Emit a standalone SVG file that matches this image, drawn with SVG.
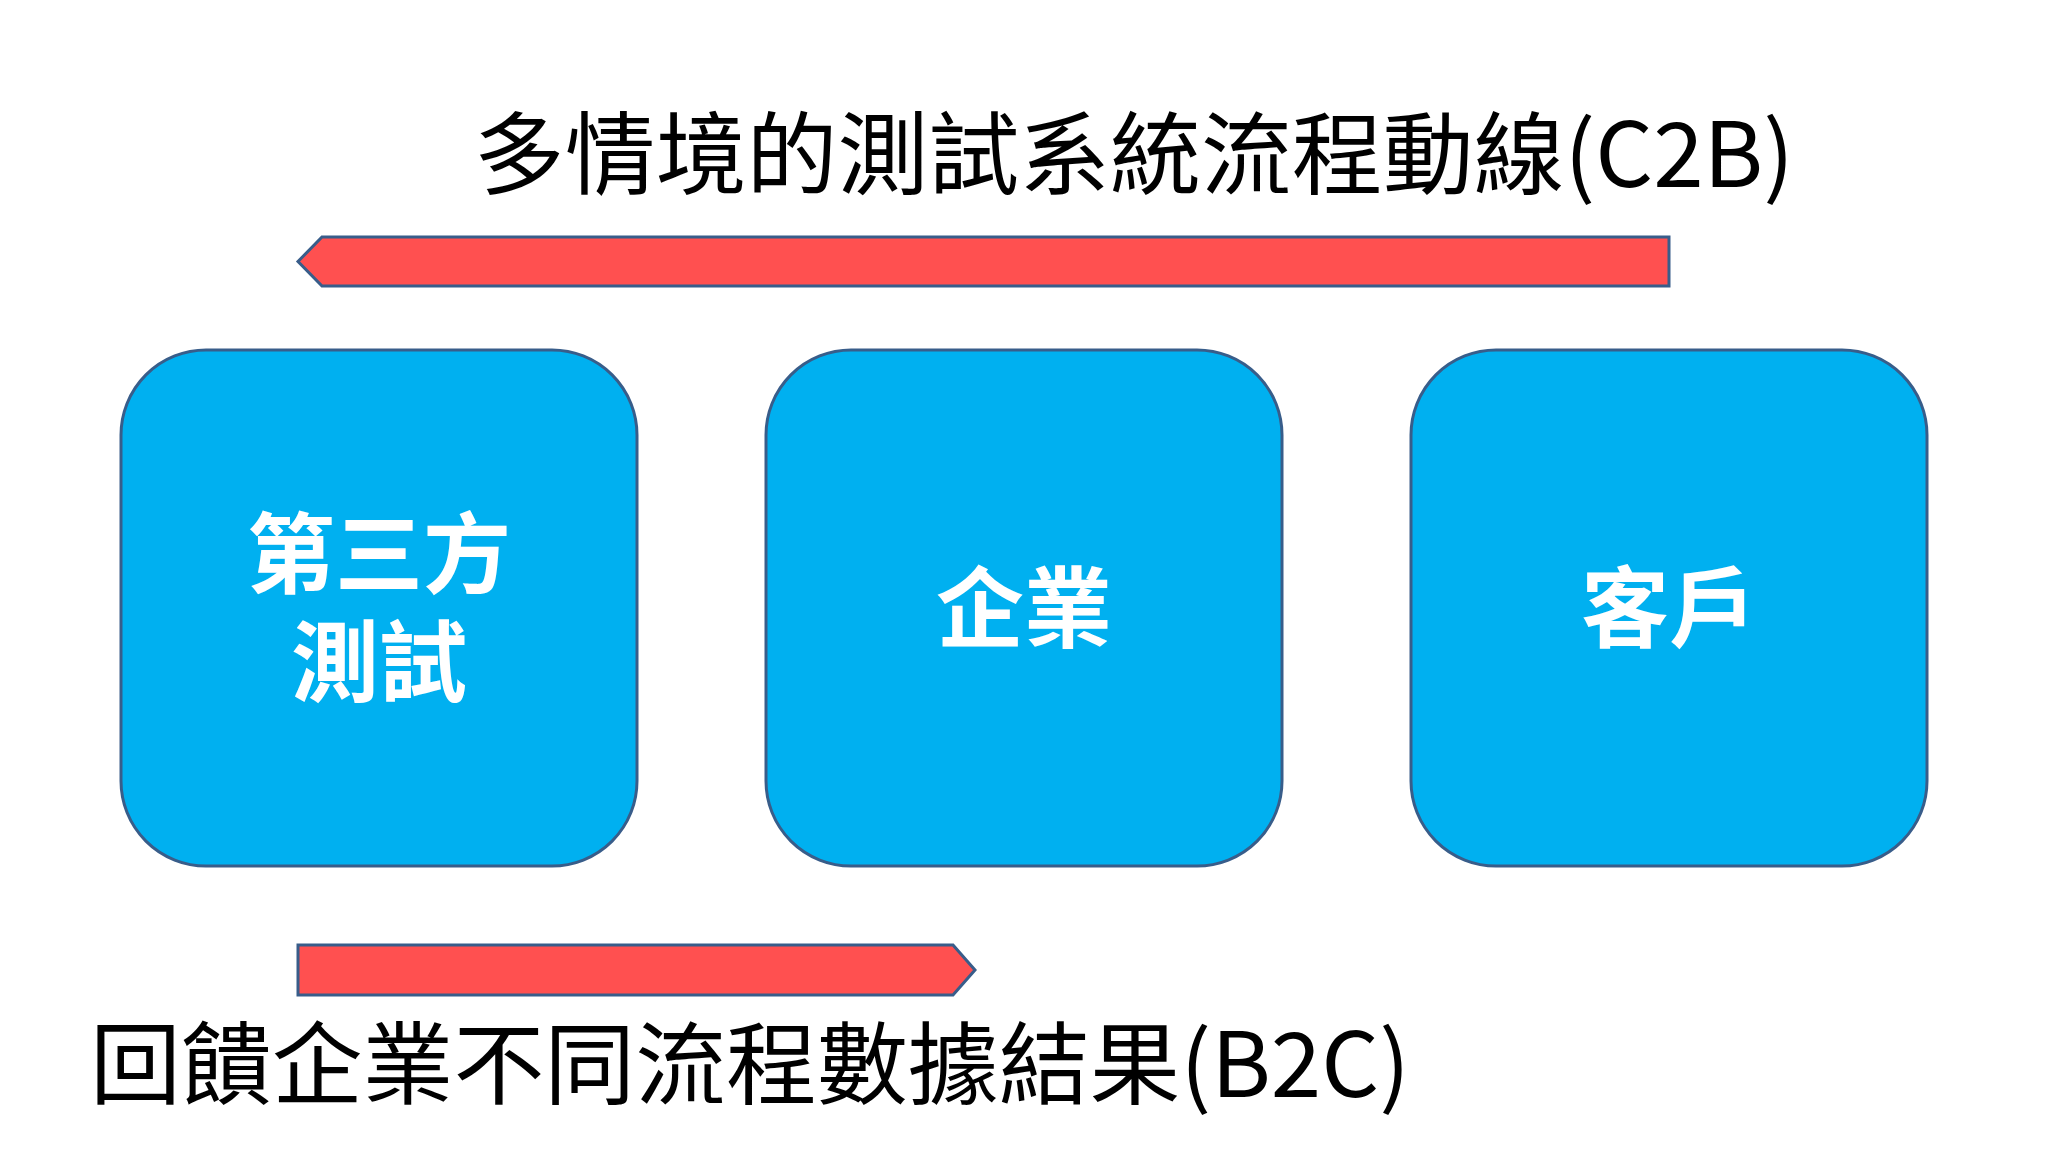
<svg xmlns="http://www.w3.org/2000/svg" width="2048" height="1152" viewBox="0 0 2048 1152">
<style>
.box{fill:#00B0F0;stroke:#385D8A;stroke-width:3}
.arrow{fill:#FF5050;stroke:#385D8A;stroke-width:3;stroke-linejoin:miter}
.lbl{font-family:"Noto Sans CJK TC","Noto Sans CJK SC",sans-serif;font-weight:700;font-size:88px;fill:#FFFFFF;text-anchor:middle}
.cap{font-family:"Noto Sans CJK TC","Noto Sans CJK SC",sans-serif;font-weight:400;font-size:90px;fill:#000000}
</style>
<rect width="2048" height="1152" fill="#FFFFFF"/>
<g id="title-top">
<text class="cap" x="474" y="187" textLength="1320" lengthAdjust="spacingAndGlyphs">多情境的測試系統流程動線(C2B)</text>
</g>
<g id="connectors">
<path id="arrow-c2b" class="arrow" d="M1669,237 L322,237 L298,261.5 L322,286 L1669,286 Z"/>
<path id="arrow-b2c" class="arrow" d="M298,945 L953,945 L975,970 L953,995 L298,995 Z"/>
</g>
<g id="node-third-party">
<rect class="box" x="121" y="350" width="516" height="516" rx="85" ry="85"/>
<text class="lbl" x="379" y="586"><tspan x="379" y="586">第三方</tspan><tspan x="379" y="694">測試</tspan></text>
</g>
<g id="node-enterprise">
<rect class="box" x="766" y="350" width="516" height="516" rx="85" ry="85"/>
<text class="lbl" x="1024" y="640">企業</text>
</g>
<g id="node-customer">
<rect class="box" x="1411" y="350" width="516" height="516" rx="85" ry="85"/>
<text class="lbl" x="1669" y="640">客戶</text>
</g>
<g id="title-bottom">
<text class="cap" x="90" y="1097" textLength="1320" lengthAdjust="spacingAndGlyphs">回饋企業不同流程數據結果(B2C)</text>
</g>
</svg>
